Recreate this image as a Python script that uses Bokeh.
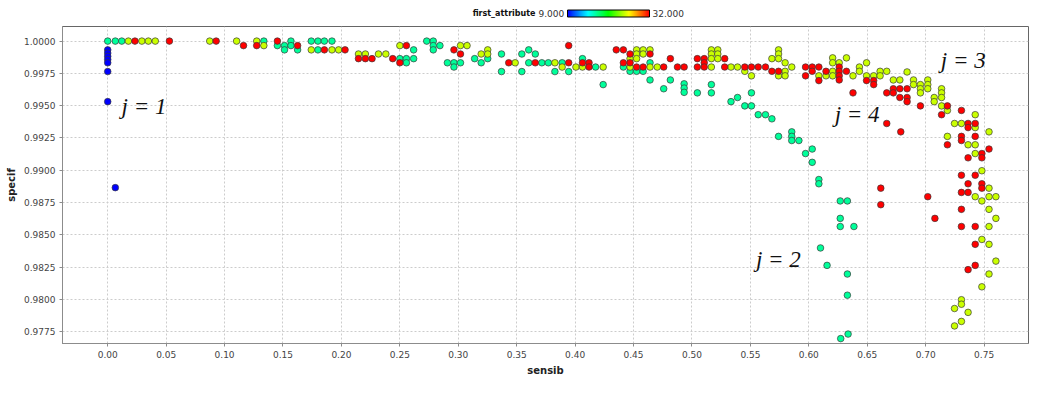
import colorsys
from bokeh.plotting import figure
from bokeh.layouts import column
from bokeh.models import (ColumnDataSource, LinearColorMapper, ColorBar, Label,
                          SingleIntervalTicker, NumeralTickFormatter, Range1d, FixedTicker)
from bokeh.core.properties import value
from bokeh.embed import file_html
from bokeh.resources import INLINE

# ---------------- data (sensib, specif) per first_attribute level ----------------
attr_blue, attr_green, attr_yellow, attr_red = 9.0, 17.0, 25.0, 32.0

blue_points = [(0.0, 0.99932), (0.0, 0.99907), (0.0, 0.99882), (0.0, 0.99857),
               (0.0, 0.99832), (0.0, 0.99764), (0.0, 0.99531), (0.0065, 0.98865)]

green_points = [
    (0.0000, 1.0), (0.0065, 1.0), (0.0120, 1.0), (0.1336, 1.0), (0.1568, 1.0),
    (0.1742, 1.0), (0.1799, 1.0), (0.1854, 1.0), (0.1919, 1.0),
    (0.1452, 0.99965), (0.1513, 0.99965), (0.1568, 0.99965),
    (0.1513, 0.99932), (0.1625, 0.99932), (0.1799, 0.99932),
    (0.2500, 0.99864), (0.2556, 0.99864), (0.2556, 0.99832), (0.2618, 0.99932), (0.2618, 0.99864),
    (0.2730, 1.0), (0.2786, 1.0), (0.2786, 0.99965), (0.2786, 0.99932), (0.2843, 0.99965),
    (0.2907, 0.99832), (0.2963, 0.99832), (0.2963, 0.99799), (0.3019, 0.99832), (0.3140, 0.99864),
    (0.3196, 0.99832), (0.3252, 0.99864), (0.3370, 0.99900), (0.3370, 0.99764),
    (0.3544, 0.99900), (0.3544, 0.99764), (0.3603, 0.99932), (0.3603, 0.99832),
    (0.3659, 0.99900), (0.3715, 0.99832), (0.3771, 0.99832), (0.3827, 0.99764),
    (0.3889, 0.99832), (0.3945, 0.99764), (0.4063, 0.99864), (0.4175, 0.99799),
    (0.4240, 0.99663), (0.4413, 0.99799), (0.4470, 0.99766), (0.4526, 0.99766),
    (0.4582, 0.99766), (0.4641, 0.99832), (0.4641, 0.99699), (0.4758, 0.99631),
    (0.4815, 0.99699), (0.4933, 0.99669), (0.4933, 0.99636), (0.4933, 0.99603),
    (0.5046, 0.99599), (0.5166, 0.99663), (0.5166, 0.99599), (0.5334, 0.99531),
    (0.5390, 0.99563), (0.5452, 0.99498), (0.5509, 0.99599), (0.5509, 0.99498),
    (0.5567, 0.99430), (0.5629, 0.99430), (0.5684, 0.99398), (0.5741, 0.99262),
    (0.5854, 0.99297), (0.5854, 0.99262), (0.5854, 0.99230), (0.5915, 0.99230),
    (0.5972, 0.99129), (0.6029, 0.99164), (0.6029, 0.99061), (0.6086, 0.98928),
    (0.6086, 0.98895), (0.6100, 0.98398), (0.6156, 0.98263), (0.6269, 0.98762),
    (0.6269, 0.98627), (0.6269, 0.98564), (0.6330, 0.98762), (0.6386, 0.98564),
    (0.6330, 0.98196), (0.6330, 0.98032), (0.6336, 0.97731), (0.6273, 0.97696)]

yellow_points = [
    (0.0177, 1.0), (0.0292, 1.0), (0.0348, 1.0), (0.0407, 1.0), (0.0873, 1.0),
    (0.1103, 1.0), (0.1275, 1.0), (0.1336, 0.99965), (0.1742, 0.99932), (0.1919, 0.99932),
    (0.1976, 0.99932), (0.2146, 0.99900), (0.2205, 0.99900), (0.2317, 0.99900), (0.2380, 0.99900),
    (0.2500, 0.99965), (0.3019, 0.99965), (0.3075, 0.99965), (0.3196, 0.99900), (0.3252, 0.99932),
    (0.3252, 0.99900), (0.3487, 0.99832), (0.3827, 0.99832), (0.3889, 0.99799), (0.4007, 0.99799),
    (0.4063, 0.99799), (0.4240, 0.99799), (0.4470, 0.99864), (0.4470, 0.99799), (0.4526, 0.99932),
    (0.4526, 0.99900), (0.4526, 0.99864), (0.4582, 0.99932), (0.4582, 0.99900), (0.4641, 0.99932),
    (0.4641, 0.99799), (0.4703, 0.99799), (0.5166, 0.99932), (0.5166, 0.99900), (0.5166, 0.99864),
    (0.5166, 0.99799), (0.5221, 0.99932), (0.5221, 0.99900), (0.5221, 0.99864), (0.5334, 0.99799),
    (0.5390, 0.99799), (0.5452, 0.99766), (0.5509, 0.99731), (0.5684, 0.99864), (0.5741, 0.99932),
    (0.5741, 0.99900), (0.5741, 0.99864), (0.5741, 0.99731), (0.5797, 0.99832), (0.5797, 0.99766),
    (0.5797, 0.99731), (0.5854, 0.99799), (0.6086, 0.99731), (0.6147, 0.99731), (0.6204, 0.99870),
    (0.6204, 0.99832), (0.6204, 0.99766), (0.6204, 0.99731), (0.6260, 0.99832), (0.6322, 0.99870),
    (0.6378, 0.99731), (0.6433, 0.99799), (0.6433, 0.99766), (0.6494, 0.99832), (0.6494, 0.99731),
    (0.6555, 0.99731), (0.6610, 0.99766), (0.6610, 0.99731), (0.6667, 0.99766), (0.6723, 0.99699),
    (0.6779, 0.99699), (0.6841, 0.99761), (0.6896, 0.99699), (0.6896, 0.99663), (0.6955, 0.99663),
    (0.6955, 0.99631), (0.6955, 0.99599), (0.7018, 0.99699), (0.7018, 0.99663), (0.7018, 0.99631),
    (0.7073, 0.99563), (0.7073, 0.99531), (0.7136, 0.99631), (0.7136, 0.99599), (0.7136, 0.99563),
    (0.7136, 0.99498), (0.7186, 0.99463), (0.7186, 0.99262), (0.7247, 0.99362), (0.7306, 0.99362),
    (0.7306, 0.97997), (0.7306, 0.97962), (0.7306, 0.97829), (0.7363, 0.99197), (0.7363, 0.97899),
    (0.7424, 0.99430), (0.7424, 0.99330), (0.7424, 0.99197), (0.7424, 0.99129), (0.7424, 0.98795),
    (0.7481, 0.98996), (0.7481, 0.98762), (0.7481, 0.98464), (0.7481, 0.98097), (0.7542, 0.99297),
    (0.7542, 0.98861), (0.7542, 0.98795), (0.7542, 0.98697), (0.7542, 0.98564), (0.7542, 0.98426),
    (0.7542, 0.98196), (0.7601, 0.98795), (0.7601, 0.98627), (0.7601, 0.98296), (0.7247, 0.97929),
    (0.7247, 0.97794)]

red_points = [
    (0.0233, 1.0), (0.0528, 1.0), (0.0928, 1.0), (0.1452, 1.0),
    (0.1162, 0.99965), (0.1275, 0.99965), (0.1625, 0.99965), (0.1854, 0.99932), (0.2031, 0.99932),
    (0.2146, 0.99864), (0.2205, 0.99864), (0.2262, 0.99864), (0.2439, 0.99864), (0.2500, 0.99832),
    (0.2556, 0.99965), (0.2963, 0.99932), (0.3019, 0.99900), (0.3432, 0.99832), (0.3659, 0.99832),
    (0.3945, 0.99965), (0.3945, 0.99832), (0.4063, 0.99832), (0.4119, 0.99832), (0.4119, 0.99799),
    (0.4352, 0.99932), (0.4413, 0.99932), (0.4413, 0.99832), (0.4470, 0.99900), (0.4470, 0.99832),
    (0.4526, 0.99799), (0.4582, 0.99799), (0.4641, 0.99900), (0.4758, 0.99799), (0.4815, 0.99864),
    (0.4876, 0.99799), (0.4933, 0.99799), (0.5046, 0.99864), (0.5046, 0.99799), (0.5105, 0.99864),
    (0.5105, 0.99832), (0.5105, 0.99799), (0.5280, 0.99864), (0.5280, 0.99799), (0.5452, 0.99799),
    (0.5509, 0.99799), (0.5567, 0.99799), (0.5629, 0.99799), (0.5684, 0.99766), (0.5741, 0.99766),
    (0.5972, 0.99799), (0.5972, 0.99731), (0.6029, 0.99799), (0.6029, 0.99766), (0.6086, 0.99799),
    (0.6086, 0.99694), (0.6147, 0.99766), (0.6260, 0.99799), (0.6260, 0.99766), (0.6260, 0.99731),
    (0.6260, 0.99699), (0.6322, 0.99766), (0.6378, 0.99599), (0.6494, 0.99694), (0.6555, 0.99694),
    (0.6555, 0.99663), (0.6667, 0.99599), (0.6667, 0.99362), (0.6723, 0.99631), (0.6723, 0.99599),
    (0.6779, 0.99631), (0.6779, 0.99563), (0.6787, 0.99297), (0.6841, 0.99631), (0.6841, 0.99563),
    (0.6841, 0.99531), (0.6955, 0.99498), (0.7136, 0.99430), (0.7186, 0.99498), (0.7186, 0.99197),
    (0.7306, 0.99463), (0.7306, 0.99262), (0.7306, 0.99230), (0.7306, 0.98961), (0.7306, 0.98828),
    (0.7306, 0.98697), (0.7306, 0.98564), (0.7363, 0.99362), (0.7363, 0.99330), (0.7363, 0.99096),
    (0.7363, 0.98895), (0.7363, 0.98828), (0.7363, 0.98230), (0.7424, 0.99362), (0.7424, 0.99262),
    (0.7424, 0.98961), (0.7424, 0.98564), (0.7424, 0.98426), (0.7424, 0.98263), (0.7481, 0.99129),
    (0.7481, 0.99096), (0.7481, 0.98895), (0.7481, 0.98861), (0.7542, 0.99164), (0.6616, 0.98861),
    (0.6616, 0.98733), (0.7018, 0.98795), (0.7079, 0.98627)]

annotation_texts = ["j = 1", "j = 2", "j = 3", "j = 4"]
annotation_x = [0.0118, 0.5547, 0.7130, 0.6221]
annotation_y = [0.99495, 0.98306, 0.99849, 0.99435]

color_title = "first_attribute"
color_low, color_high = 9.0, 32.0

# ---------------- build source ----------------
groups = [(green_points, attr_green), (yellow_points, attr_yellow),
          (red_points, attr_red), (blue_points, attr_blue)]
xs, ys, attrs = [], [], []
for pts, a in groups:
    for sx, sy in pts:
        xs.append(sx); ys.append(sy); attrs.append(a)
src = ColumnDataSource(dict(sensib=xs, specif=ys, first_attribute=attrs))

palette = []
for i in range(256):
    h = (1.0 - i / 255.0) * (240.0 / 360.0)
    r, g, b = colorsys.hsv_to_rgb(h, 1.0, 1.0)
    palette.append("#%02x%02x%02x" % (int(round(r * 255)), int(round(g * 255)), int(round(b * 255))))
mapper = LinearColorMapper(palette=palette, low=color_low, high=color_high)

W = 1030
LEG_H = 22
BL, BR = 62, 2          # frame borders shared by both strips

# ---------------- colour legend strip (pixel coordinates across the frame) ----------------
leg = figure(width=W, height=LEG_H, output_backend="svg", toolbar_location=None,
             x_range=Range1d(BL, W - BR), y_range=Range1d(0, LEG_H),
             x_axis_type=None, y_axis_type=None,
             min_border_left=BL, min_border_right=BR, min_border_top=0, min_border_bottom=0,
             background_fill_color="white", border_fill_color="white")
leg.outline_line_color = None
leg.xgrid.visible = False
leg.ygrid.visible = False
cb = ColorBar(color_mapper=mapper, orientation="horizontal", width=82, height=7,
              location=(567 - BL, 5.5), padding=0, margin=0, ticker=FixedTicker(ticks=[]),
              major_label_text_font_size="0px", major_tick_line_color=None,
              bar_line_color="black", border_line_color=None, background_fill_alpha=0)
leg.add_layout(cb, "center")
leg.text(x=[535], y=[9], text=[color_title], text_align="right", text_baseline="middle",
         text_font=value("DejaVu Sans"), text_font_style="bold", text_font_size="8px",
         text_color="#111111")
leg.text(x=[538, 652], y=[9, 9], text=["%.3f" % color_low, "%.3f" % color_high],
         text_align="left", text_baseline="middle", text_font=value("DejaVu Sans"),
         text_font_size="9px", text_color="#333333")

# ---------------- main scatter ----------------
p = figure(width=W, height=356, output_backend="svg", toolbar_location=None,
           x_range=Range1d(-0.0387, 0.788), y_range=Range1d(0.97658, 1.00113),
           min_border_left=BL, min_border_right=BR, min_border_top=4, min_border_bottom=34,
           background_fill_color="white", border_fill_color="white")

p.scatter("sensib", "specif", source=src, size=6.6,
          fill_color={"field": "first_attribute", "transform": mapper},
          line_color="#3a3a3a", line_width=0.7)

p.xaxis.ticker = SingleIntervalTicker(interval=0.05, num_minor_ticks=0)
p.yaxis.ticker = SingleIntervalTicker(interval=0.0025, num_minor_ticks=0)
p.xaxis.formatter = NumeralTickFormatter(format="0.00")
p.yaxis.formatter = NumeralTickFormatter(format="0.0000")
p.xaxis.axis_label = "sensib"
p.yaxis.axis_label = "specif"
for ax in (p.xaxis, p.yaxis):
    ax.axis_line_color = "#8c8c8c"
    ax.major_tick_line_color = "#8c8c8c"
    ax.major_tick_out = 3
    ax.major_tick_in = 0
    ax.minor_tick_line_color = None
    ax.major_label_text_font = "DejaVu Sans"
    ax.major_label_text_font_size = "9px"
    ax.major_label_text_color = "#444444"
    ax.axis_label_text_font = "DejaVu Sans"
    ax.axis_label_text_font_size = "10px"
    ax.axis_label_text_font_style = "bold"
    ax.axis_label_text_color = "#222222"
    ax.axis_label_standoff = 4
    ax.major_label_standoff = 4

for g in (p.xgrid, p.ygrid):
    g.grid_line_color = "#cccccc"
    g.grid_line_dash = "2 2"
    g.grid_line_width = 1

p.outline_line_color = "#666666"
p.outline_line_width = 1

for t, ax_, ay_ in zip(annotation_texts, annotation_x, annotation_y):
    p.add_layout(Label(x=ax_, y=ay_, text=t, text_font="Liberation Serif",
                       text_font_style="italic", text_font_size="23px",
                       text_baseline="middle", text_align="left", text_color="#111111"))

layout = column(leg, p, spacing=0)
open("out.html", "w").write(file_html(layout, INLINE))
